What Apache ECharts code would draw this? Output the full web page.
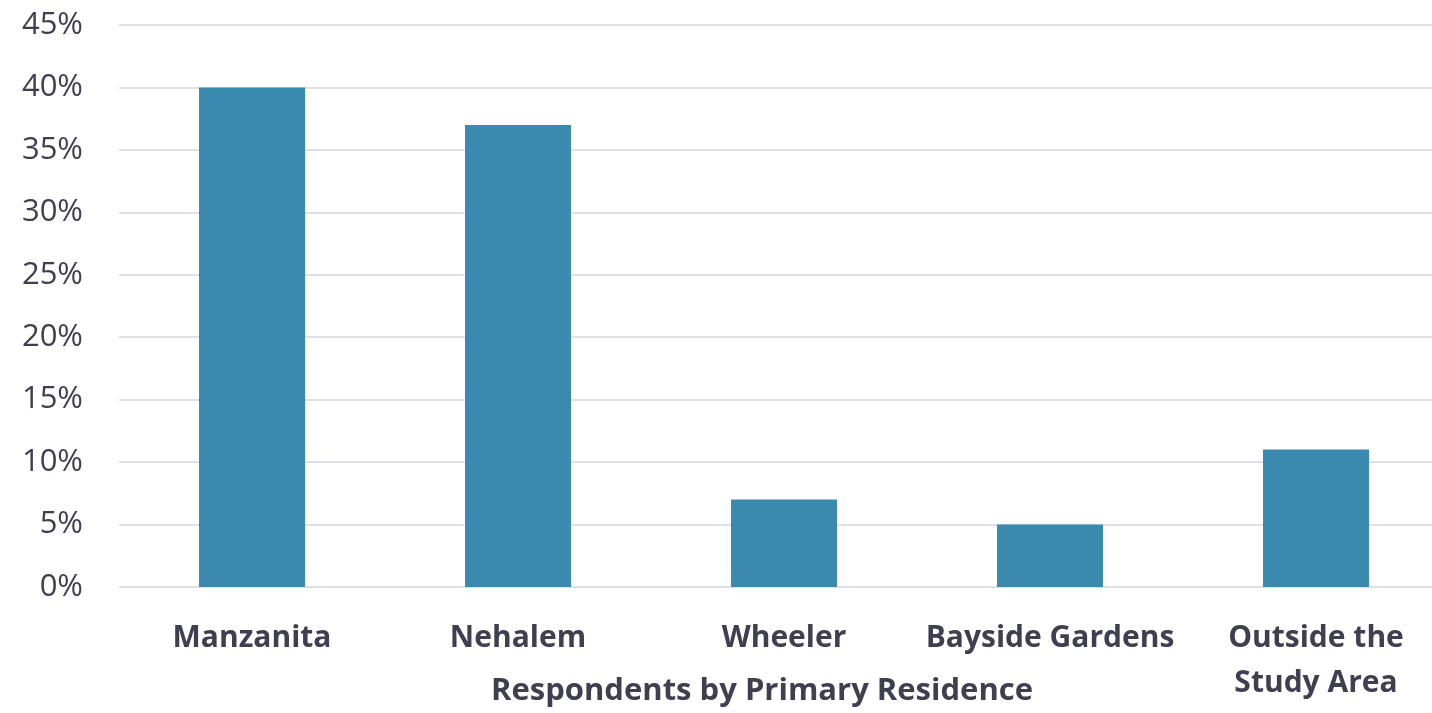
<!DOCTYPE html>
<html>
<head>
<meta charset="utf-8">
<script src="https://cdn.jsdelivr.net/npm/echarts@6/dist/echarts.min.js"></script>
<style>
  html, body { margin: 0; padding: 0; background: #fff; overflow: hidden; }
  /* plot runs slightly past the right edge of the window */
  #chart { width: 1449px; height: 713px; }
</style>
</head>
<body>
<div id="chart"></div>
<script>
// Share of respondents by primary residence (%)
const categories = ['Manzanita', 'Nehalem', 'Wheeler', 'Bayside Gardens', 'Outside the\nStudy Area'];
const shares = [40, 37, 7, 5, 11];
const axisTitle = 'Respondents by Primary Residence';

const textColor = '#403f4f';
const fontFamily = '"Open Sans", Lato, sans-serif';

const chart = echarts.init(document.getElementById('chart'));
chart.setOption({
  animation: false,
  grid: { left: 119, right: 0, top: 25, bottom: 126 },
  xAxis: {
    type: 'category',
    data: categories,
    axisLine: { show: false },
    axisTick: { show: false },
    axisLabel: {
      color: textColor,
      fontFamily: fontFamily,
      fontWeight: 'bold',
      fontSize: 30,
      lineHeight: 45,
      margin: 29,
      interval: 0
    }
  },
  yAxis: {
    type: 'value',
    min: 0,
    max: 45,
    interval: 5,
    axisLine: { show: false },
    axisTick: { show: false },
    splitLine: { lineStyle: { color: '#e0dfe6', width: 2 } },
    axisLabel: {
      formatter: '{value}%',
      color: textColor,
      fontFamily: fontFamily,
      fontSize: 31,
      margin: 36
    }
  },
  series: [{
    type: 'bar',
    data: shares,
    barWidth: 106,
    itemStyle: { color: '#3a89ae' }
  }],
  graphic: [{
    type: 'text',
    x: 762,
    y: 676,
    style: {
      text: axisTitle,
      fill: textColor,
      textAlign: 'center',
      font: 'bold 31px ' + fontFamily
    }
  }]
});
</script>
</body>
</html>
